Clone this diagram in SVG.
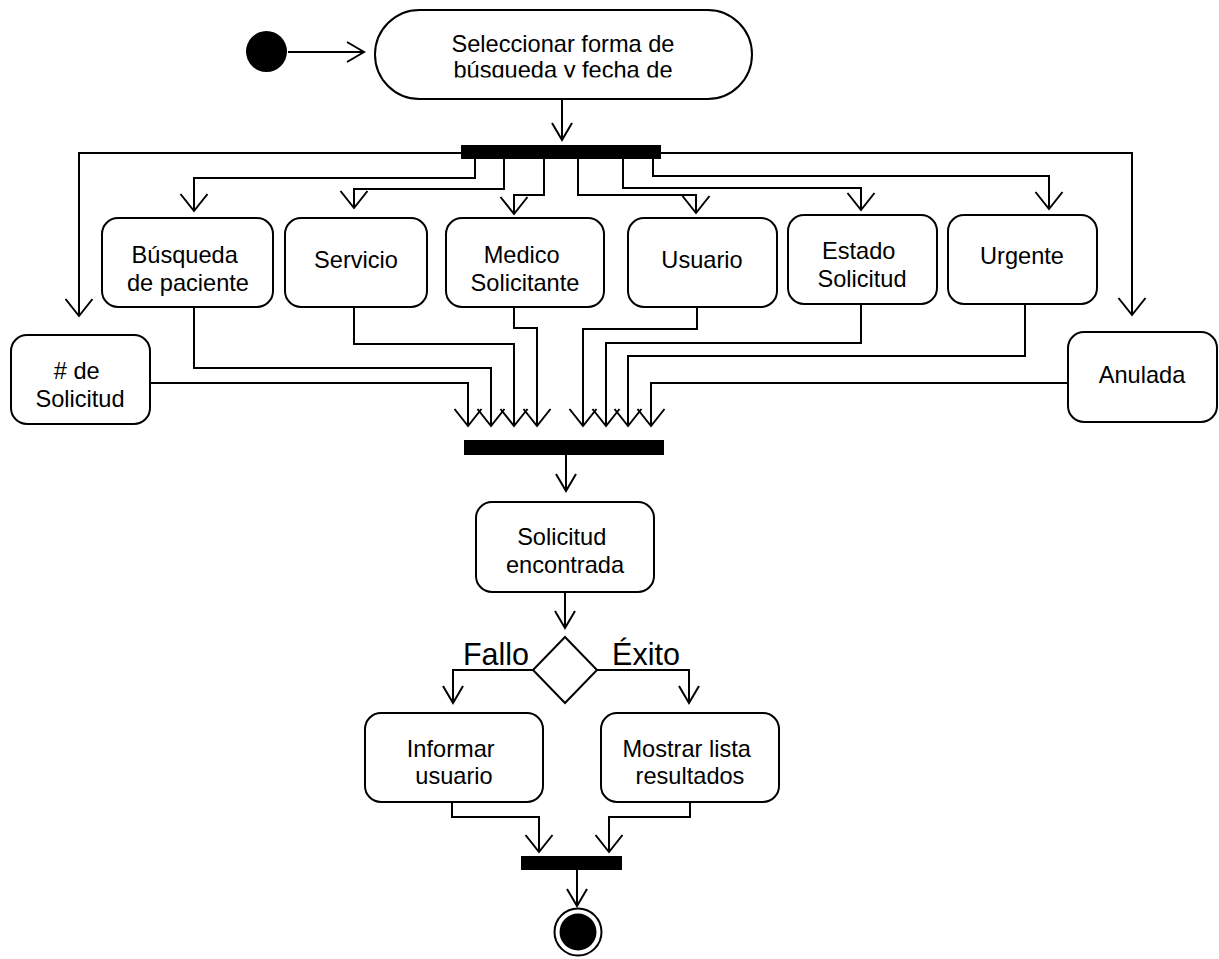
<svg xmlns="http://www.w3.org/2000/svg" width="1219" height="959" viewBox="0 0 1219 959">
  <style>
    .box { fill: #fff; stroke: #000; stroke-width: 2; }
    .bar { fill: #000; }
    .flow { fill: none; stroke: #000; stroke-width: 2; }
    .wide { marker-end: url(#arrowWide); }
    .narrow { marker-end: url(#arrowNarrow); }
    text { font-family: "Liberation Sans", Arial, sans-serif; font-size: 23.6px; fill: #000; text-anchor: middle; }
    .guard { font-size: 30.5px; }
  </style>
  <defs>
    <marker id="arrowWide" viewBox="-19 -15 21 30" refX="0" refY="0" markerWidth="21" markerHeight="30" markerUnits="userSpaceOnUse" orient="auto">
      <path d="M-17,-13.5 L0,0 L-17,13.5" fill="none" stroke="#000" stroke-width="2"/>
    </marker>
    <marker id="arrowNarrow" viewBox="-19 -12 21 24" refX="0" refY="0" markerWidth="21" markerHeight="24" markerUnits="userSpaceOnUse" orient="auto">
      <path d="M-17,-10 L0,0 L-17,10" fill="none" stroke="#000" stroke-width="2"/>
    </marker>
    <clipPath id="pillClip">
      <rect x="375" y="10" width="378" height="67.5"/>
    </clipPath>
  </defs>

  <!-- connectors -->
  <g id="connectors">
    <path class="flow narrow" d="M288,52 H364"/>
    <path class="flow narrow" d="M562,99 V140"/>
    <!-- fork branches -->
    <path class="flow wide" d="M461,153 H79 V316"/>
    <path class="flow wide" d="M475,159 V178 H194 V211"/>
    <path class="flow wide" d="M504,159 V189 H354 V208"/>
    <path class="flow wide" d="M544,159 V195 H514 V214"/>
    <path class="flow wide" d="M578,159 V195 H696 V213"/>
    <path class="flow wide" d="M623,159 V188 H861 V210"/>
    <path class="flow wide" d="M653,159 V176 H1049 V209"/>
    <path class="flow wide" d="M661,153 H1132 V315"/>
    <!-- join branches -->
    <path class="flow wide" d="M150,383 H468 V426"/>
    <path class="flow wide" d="M194,307 V368 H491 V426"/>
    <path class="flow wide" d="M354,307 V344 H514 V426"/>
    <path class="flow wide" d="M514,307 V328 H537 V426"/>
    <path class="flow wide" d="M697,307 V329 H583 V426"/>
    <path class="flow wide" d="M861,304 V343 H606 V426"/>
    <path class="flow wide" d="M1025,304 V356 H628 V426"/>
    <path class="flow wide" d="M1068,383 H651 V426"/>
    <!-- lower flow -->
    <path class="flow narrow" d="M566,455 V491"/>
    <path class="flow narrow" d="M565,592 V628"/>
    <path class="flow narrow" d="M533,670 H453 V703"/>
    <path class="flow narrow" d="M597,670 H689 V703"/>
    <path class="flow wide" d="M452,802 V817 H539 V852"/>
    <path class="flow wide" d="M690,802 V817 H609 V852"/>
    <path class="flow narrow" d="M577,870 V906"/>
  </g>

  <g id="start">
    <circle cx="266.5" cy="51.5" r="20.5" fill="#000"/>
  </g>

  <g id="select-search">
    <rect class="box" x="375" y="10" width="377" height="89" rx="44.5"/>
    <g clip-path="url(#pillClip)">
      <text x="563" y="52">Seleccionar forma de</text>
      <text x="563" y="78">búsqueda y fecha de</text>
    </g>
  </g>

  <g id="fork">
    <rect class="bar" x="461" y="145" width="200" height="14"/>
  </g>

  <g id="by-number">
    <rect class="box" x="11" y="335" width="139" height="89" rx="16"/>
    <text x="80" y="379">
      <tspan x="80" y="379"># de</tspan>
      <tspan x="80" y="407">Solicitud</tspan>
    </text>
  </g>

  <g id="by-patient">
    <rect class="box" x="102" y="218" width="171" height="89" rx="16"/>
    <text>
      <tspan x="188" y="263">Búsqueda</tspan>
      <tspan x="188" y="291">de paciente</tspan>
    </text>
  </g>

  <g id="by-service">
    <rect class="box" x="285" y="218" width="142" height="89" rx="16"/>
    <text x="356" y="268">Servicio</text>
  </g>

  <g id="by-doctor">
    <rect class="box" x="446" y="218" width="158" height="89" rx="16"/>
    <text>
      <tspan x="525" y="263">Medico</tspan>
      <tspan x="525" y="291">Solicitante</tspan>
    </text>
  </g>

  <g id="by-user">
    <rect class="box" x="628" y="218" width="149" height="89" rx="16"/>
    <text x="702" y="268">Usuario</text>
  </g>

  <g id="by-status">
    <rect class="box" x="788" y="215" width="149" height="89" rx="16"/>
    <text>
      <tspan x="862" y="259">Estado</tspan>
      <tspan x="862" y="287">Solicitud</tspan>
    </text>
  </g>

  <g id="by-urgent">
    <rect class="box" x="948" y="215" width="149" height="89" rx="16"/>
    <text x="1022" y="264">Urgente</text>
  </g>

  <g id="by-cancelled">
    <rect class="box" x="1068" y="332" width="149" height="90" rx="16"/>
    <text x="1142" y="383">Anulada</text>
  </g>

  <g id="join">
    <rect class="bar" x="464" y="440" width="200" height="15"/>
  </g>

  <g id="request-found">
    <rect class="box" x="476" y="502" width="178" height="90" rx="16"/>
    <text>
      <tspan x="565" y="545">Solicitud</tspan>
      <tspan x="565" y="573">encontrada</tspan>
    </text>
  </g>

  <g id="decision">
    <polygon points="565,637 597,670 565,703 533,670" fill="#fff" stroke="#000" stroke-width="2"/>
    <text class="guard" x="496" y="665">Fallo</text>
    <text class="guard" x="646" y="665">Éxito</text>
  </g>

  <g id="inform-user">
    <rect class="box" x="365" y="713" width="178" height="89" rx="16"/>
    <text>
      <tspan x="454" y="757">Informar</tspan>
      <tspan x="454" y="784">usuario</tspan>
    </text>
  </g>

  <g id="show-results">
    <rect class="box" x="601" y="713" width="178" height="89" rx="16"/>
    <text>
      <tspan x="690" y="757">Mostrar lista</tspan>
      <tspan x="690" y="784">resultados</tspan>
    </text>
  </g>

  <g id="merge">
    <rect class="bar" x="521" y="856" width="101" height="14"/>
  </g>

  <g id="end">
    <circle cx="578" cy="932" r="23.5" fill="#fff" stroke="#000" stroke-width="2"/>
    <circle cx="578" cy="932" r="18.5" fill="#000"/>
  </g>
</svg>
